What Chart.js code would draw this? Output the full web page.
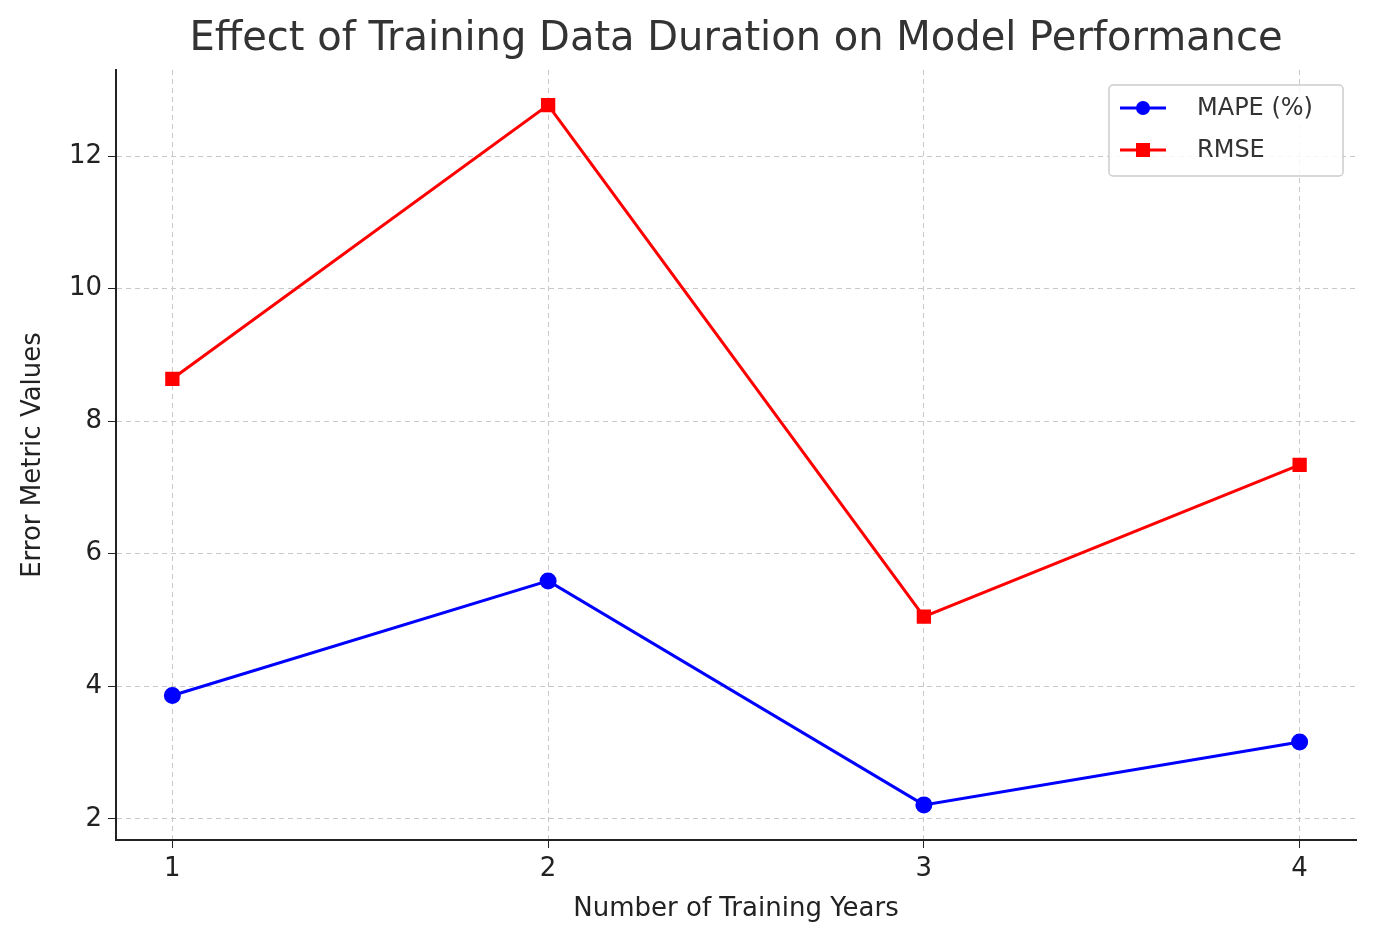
<!DOCTYPE html>
<html>
<head>
<meta charset="utf-8">
<script src="https://cdn.jsdelivr.net/npm/chart.js@4"></script>
<style>
  body { margin: 0; background: #fff; }
  #wrap { width: 1376px; height: 947px; }
</style>
</head>
<body>
<div id="wrap"><canvas id="c" width="1376" height="947"></canvas></div>
<script>
const years = [1, 2, 3, 4];
const mape = [3.86, 5.59, 2.21, 3.16];
const rmse = [8.64, 12.77, 5.05, 7.34];
const yTicks = [2, 4, 6, 8, 10, 12];
const FONT = "'DejaVu Sans', sans-serif";

const titlePlugin = {
  id: 'titleDraw',
  afterDraw(chart) {
    const ctx = chart.ctx;
    ctx.save();
    ctx.fillStyle = '#333';
    ctx.font = '40px ' + FONT;
    ctx.textAlign = 'center';
    ctx.textBaseline = 'middle';
    ctx.fillText('Effect of Training Data Duration on Model Performance', 736, 40);
    ctx.restore();
  }
};

const legendPlugin = {
  id: 'legendInside',
  afterDraw(chart) {
    const ctx = chart.ctx;
    ctx.save();
    ctx.fillStyle = 'rgba(255,255,255,0.85)';
    ctx.strokeStyle = '#ccc';
    ctx.lineWidth = 1.5;
    ctx.beginPath();
    ctx.roundRect(1109, 85, 234, 91, 4);
    ctx.fill();
    ctx.stroke();
    chart.data.datasets.forEach((ds, i) => {
      const y = 108 + i * 42;
      ctx.strokeStyle = ds.borderColor;
      ctx.lineWidth = 3;
      ctx.beginPath();
      ctx.moveTo(1120, y);
      ctx.lineTo(1166, y);
      ctx.stroke();
      ctx.fillStyle = ds.borderColor;
      if (ds.pointStyle === 'rect') {
        ctx.fillRect(1136, y - 7, 14, 14);
      } else {
        ctx.beginPath();
        ctx.arc(1143, y, 7, 0, Math.PI * 2);
        ctx.fill();
      }
      ctx.fillStyle = '#333';
      ctx.font = '24px ' + FONT;
      ctx.textBaseline = 'middle';
      ctx.fillText(ds.label, 1197, y + 1);
    });
    ctx.restore();
  }
};

new Chart(document.getElementById('c'), {
  type: 'line',
  data: {
    datasets: [
      {
        label: 'MAPE (%)',
        data: years.map((x, i) => ({ x: x, y: mape[i] })),
        borderColor: '#0000ff',
        backgroundColor: '#0000ff',
        borderWidth: 3,
        pointStyle: 'circle',
        pointRadius: 7,
        pointHoverRadius: 7
      },
      {
        label: 'RMSE',
        data: years.map((x, i) => ({ x: x, y: rmse[i] })),
        borderColor: '#ff0000',
        backgroundColor: '#ff0000',
        borderWidth: 3,
        pointStyle: 'rect',
        pointRadius: 8,
        pointHoverRadius: 8
      }
    ]
  },
  options: {
    responsive: false,
    animation: false,
    layout: { padding: { top: 70, right: 20, left: 18, bottom: 22 } },
    plugins: { legend: { display: false }, title: { display: false }, tooltip: { enabled: false } },
    scales: {
      x: {
        type: 'linear',
        min: 0.85,
        max: 4.15,
        afterBuildTicks: s => { s.ticks = years.map(v => ({ value: v })); },
        afterFit: s => { s.height = 85; },
        grid: { color: '#c8c8c8', tickColor: '#222', tickLength: 8, lineWidth: 1 },
        border: { display: true, color: '#222', width: 2, dash: [5, 4] },
        ticks: { color: '#222', font: { family: FONT, size: 26 }, padding: 6 },
        title: { display: true, text: 'Number of Training Years', color: '#222', font: { family: FONT, size: 26 }, padding: { top: 6, bottom: 0 } }
      },
      y: {
        min: 1.68,
        max: 13.3,
        afterBuildTicks: s => { s.ticks = yTicks.map(v => ({ value: v })); },
        afterFit: s => { s.width = 98; },
        grid: { color: '#c8c8c8', tickColor: '#222', tickLength: 8, lineWidth: 1 },
        border: { display: true, color: '#222', width: 2, dash: [5, 4] },
        ticks: { color: '#222', font: { family: FONT, size: 26 }, padding: 6 },
        title: { display: true, text: 'Error Metric Values', color: '#222', font: { family: FONT, size: 26 }, padding: { top: 0, bottom: 4 } }
      }
    }
  },
  plugins: [titlePlugin, legendPlugin]
});
</script>
</body>
</html>
